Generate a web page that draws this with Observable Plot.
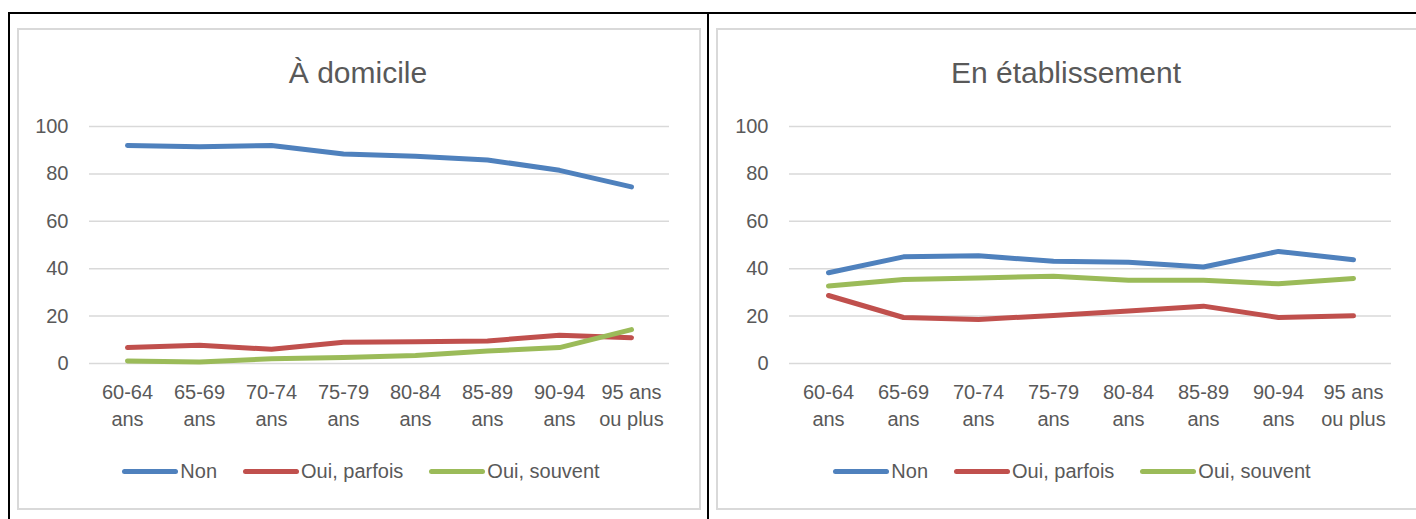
<!DOCTYPE html>
<html>
<head>
<meta charset="utf-8">
<script src="https://cdn.jsdelivr.net/npm/d3@7"></script>
<script src="https://cdn.jsdelivr.net/npm/@observablehq/plot@0.6"></script>
<style>
  html, body { margin: 0; padding: 0; background: #fff; }
  body { width: 1416px; height: 519px; position: relative; overflow: hidden;
         font-family: "Liberation Sans", Arial, sans-serif; color: #595959; }
  .bk { position: absolute; background: #000; }
  .panel { position: absolute; top: 28px; height: 478px; border: 2px solid #D9D9D9; box-sizing: content-box; }
  .title { position: absolute; left: 0; right: 0; top: 54px; text-align: center; font-size: 30px; line-height: 38px; }
  .legend { position: absolute; left: 0; right: 0; top: 459px; display: flex; justify-content: center;
            align-items: center; font-size: 20px; line-height: 24px; }
  .item { display: flex; align-items: center; margin: 0 13px; }
  .sw { width: 56px; height: 5px; border-radius: 3px; margin-right: 2px; }
  .chart { position: absolute; top: 100px; }
</style>
</head>
<body>
<div class="bk" style="left:8px; top:12px; width:1408px; height:2px;"></div>
<div class="bk" style="left:8px; top:12px; width:2px; height:507px;"></div>
<div class="bk" style="left:707px; top:12px; width:2px; height:507px;"></div>

<div class="panel" style="left:17px; width:680px; top:28px;"></div>
<div class="panel" style="left:716px; width:702px; top:28px;"></div>

<div id="leftTitle" class="title" style="left:17px; width:682px; right:auto;"></div>
<div id="rightTitle" class="title" style="left:716px; width:700px; right:auto;"></div>
<div id="leftChart" class="chart" style="left:17px;"></div>
<div id="rightChart" class="chart" style="left:716px;"></div>
<div id="leftLegend" class="legend" style="left:20px; width:682px; right:auto;"></div>
<div id="rightLegend" class="legend" style="left:722px; width:700px; right:auto;"></div>

<script>
// ---- Data ----
const ages = ["60-64 ans", "65-69 ans", "70-74 ans", "75-79 ans", "80-84 ans", "85-89 ans", "90-94 ans", "95 ans ou plus"];
const ageTickLabels = ["60-64\nans", "65-69\nans", "70-74\nans", "75-79\nans", "80-84\nans", "85-89\nans", "90-94\nans", "95 ans\nou plus"];
const seriesNames = ["Non", "Oui, parfois", "Oui, souvent"];
const seriesColors = ["#4F81BD", "#C0504D", "#9BBB59"];
const yTicks = [0, 20, 40, 60, 80, 100];
const panelTitles = ["À domicile", "En établissement"];

const domicileNon     = [92.0, 91.5, 92.0, 88.4, 87.4, 85.9, 81.5, 74.5];
const domicileParfois = [6.7, 7.7, 6.0, 9.0, 9.2, 9.5, 11.9, 10.9];
const domicileSouvent = [1.1, 0.6, 2.0, 2.5, 3.4, 5.3, 6.7, 14.3];

const etabNon     = [38.3, 45.0, 45.5, 43.1, 42.7, 40.7, 47.3, 43.8];
const etabParfois = [28.7, 19.4, 18.6, 20.3, 22.2, 24.2, 19.4, 20.1];
const etabSouvent = [32.7, 35.4, 36.1, 36.8, 35.1, 35.1, 33.6, 35.9];

function toRows(seriesArrays) {
  const rows = [];
  seriesArrays.forEach((arr, s) => arr.forEach((v, i) => rows.push({age: ages[i], series: seriesNames[s], value: v})));
  return rows;
}

const labelOf = new Map(ages.map((a, i) => [a, ageTickLabels[i]]));

function makeChart(rows, width, marginLeft, marginRight) {
  return Plot.plot({
    width, height: 340,
    marginLeft, marginRight, marginTop: 26, marginBottom: 77,
    style: {color: "#595959", fontFamily: "'Liberation Sans', Arial, sans-serif", fontSize: "20px", background: "transparent", overflow: "visible"},
    x: {type: "point", domain: ages, padding: 0.5, label: null},
    y: {domain: [0, 100], label: null},
    color: {domain: seriesNames, range: seriesColors},
    marks: [
      Plot.gridY(yTicks, {stroke: "#D9D9D9", strokeOpacity: 1, strokeWidth: 1.5}),
      Plot.axisY(yTicks, {tickSize: 0, tickPadding: 21, fontSize: 20, fill: "#595959"}),
      Plot.axisX({tickSize: 0, tickPadding: 16, fontSize: 20, fill: "#595959", lineHeight: 1.35,
                  tickFormat: d => labelOf.get(d)}),
      Plot.line(rows, {x: "age", y: "value", z: "series", stroke: "series",
                       strokeWidth: 5, strokeLinecap: "round", strokeLinejoin: "round"})
    ]
  });
}

function makeLegend(el) {
  seriesNames.forEach((name, i) => {
    const item = document.createElement("div");
    item.className = "item";
    const sw = document.createElement("div");
    sw.className = "sw";
    sw.style.background = seriesColors[i];
    const t = document.createElement("span");
    t.textContent = name;
    item.appendChild(sw); item.appendChild(t);
    el.appendChild(item);
  });
}

document.getElementById("leftTitle").textContent = panelTitles[0];
document.getElementById("rightTitle").textContent = panelTitles[1];
document.getElementById("leftChart").appendChild(
  makeChart(toRows([domicileNon, domicileParfois, domicileSouvent]), 682, 72, 30));
document.getElementById("rightChart").appendChild(
  makeChart(toRows([etabNon, etabParfois, etabSouvent]), 700, 73, 25));
makeLegend(document.getElementById("leftLegend"));
makeLegend(document.getElementById("rightLegend"));
</script>
</body>
</html>
